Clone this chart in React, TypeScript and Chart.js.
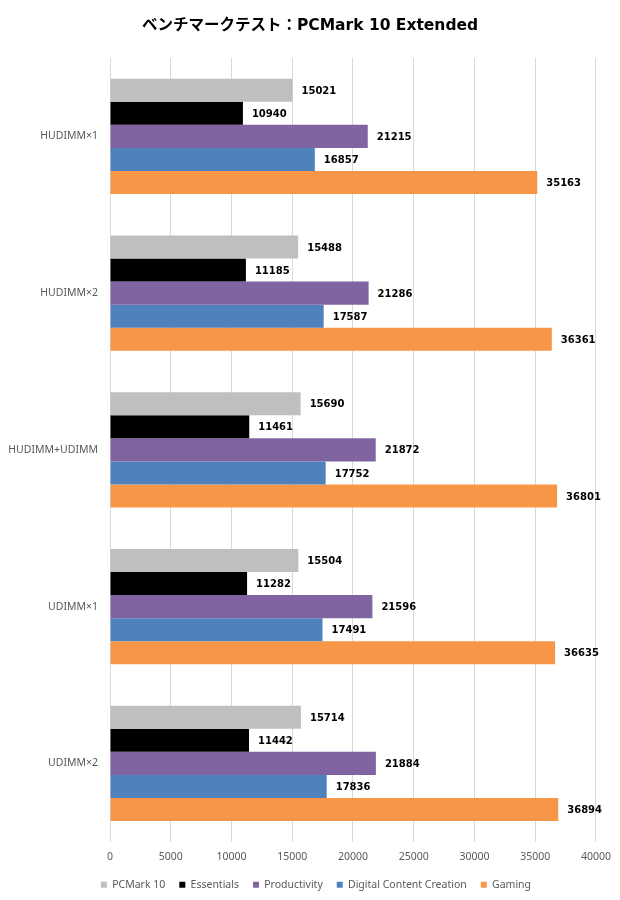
import React, { useEffect, useRef } from "react";
import { Chart, registerables } from "chart.js";

Chart.register(...registerables);

const categories = ["HUDIMM×1", "HUDIMM×2", "HUDIMM+UDIMM", "UDIMM×1", "UDIMM×2"];
const pcmark10 = [15021, 15488, 15690, 15504, 15714];
const essentials = [10940, 11185, 11461, 11282, 11442];
const productivity = [21215, 21286, 21872, 21596, 21884];
const digitalContent = [16857, 17587, 17752, 17491, 17836];
const gaming = [35163, 36361, 36801, 36635, 36894];
const seriesNames = ["PCMark 10", "Essentials", "Productivity", "Digital Content Creation", "Gaming"];
const seriesColors = ["#BFBFBF", "#000000", "#8064A2", "#4F81BD", "#F79646"];
const titleText = "ベンチマークテスト：PCMark 10 Extended";

const valueLabels = {
  id: "valueLabels",
  afterDatasetsDraw(chart: any) {
    const ctx = chart.ctx;
    ctx.save();
    ctx.font = "bold 10px 'DejaVu Sans', sans-serif";
    ctx.fillStyle = "#000000";
    ctx.textAlign = "left";
    ctx.textBaseline = "middle";
    chart.data.datasets.forEach((ds: any, i: number) => {
      const meta = chart.getDatasetMeta(i);
      meta.data.forEach((el: any, j: number) => {
        ctx.fillText(String(ds.data[j]), el.x + 9, el.y + 1);
      });
    });
    ctx.restore();
  },
};

// Excel centres title and legend over the whole picture, not only the plot box
const shiftBoxes = {
  id: "shiftBoxes",
  afterLayout(chart: any) {
    if (chart.legend) {
      chart.legend.left += 17;
      chart.legend.right += 17;
    }
    if (chart.titleBlock) {
      chart.titleBlock.left += 11;
      chart.titleBlock.right += 11;
    }
  },
};

export default function App() {
  const ref = useRef<HTMLCanvasElement>(null);
  useEffect(() => {
    if (!ref.current) return;
    const series = [pcmark10, essentials, productivity, digitalContent, gaming];
    const chart = new Chart(ref.current, {
      type: "bar",
      data: {
        labels: categories,
        datasets: series.map((d, i) => ({
          label: seriesNames[i],
          data: d,
          backgroundColor: seriesColors[i],
          borderWidth: 0,
          barPercentage: 1,
          categoryPercentage: 0.735,
        })),
      },
      options: {
        indexAxis: "y",
        responsive: false,
        animation: false,
        devicePixelRatio: 1,
        layout: { padding: { top: 0, left: 0, right: 22, bottom: 0 } },
        scales: {
          x: {
            min: 0,
            max: 40000,
            ticks: {
              stepSize: 5000,
              padding: 9,
              color: "#595959",
              font: { family: "'Noto Sans', sans-serif", size: 10.5 },
              callback: (v: any) => String(v),
            },
            grid: { color: "#D9D9D9", drawTicks: false },
            border: { display: false },
            afterFit: (scale: any) => {
              scale.height = 23.75;
            },
          },
          y: {
            ticks: {
              padding: 12,
              color: "#595959",
              font: { family: "'Noto Sans', sans-serif", size: 10.5 },
            },
            grid: { display: false, drawTicks: false },
            border: { display: false },
            afterFit: (scale: any) => {
              scale.width = 110;
            },
          },
        },
        plugins: {
          title: {
            display: true,
            text: titleText,
            color: "#000000",
            font: { family: "'DejaVu Sans', 'Noto Sans CJK JP', sans-serif", size: 15.5, weight: "bold", lineHeight: 1.2 },
            padding: { top: 17, bottom: 22.4 },
          },
          legend: {
            position: "bottom",
            labels: {
              boxWidth: 6,
              boxHeight: 6,
              padding: 14,
              color: "#595959",
              font: { family: "'Noto Sans', sans-serif", size: 10.5 },
            },
          },
          tooltip: { enabled: false },
        },
      },
      plugins: [valueLabels, shiftBoxes],
    });
    return () => chart.destroy();
  }, []);
  return (
    <div style={{ position: "absolute", left: 0, top: 0, width: 620, height: 900, background: "#fff" }}>
      <canvas ref={ref} width={620} height={900} />
    </div>
  );
}
